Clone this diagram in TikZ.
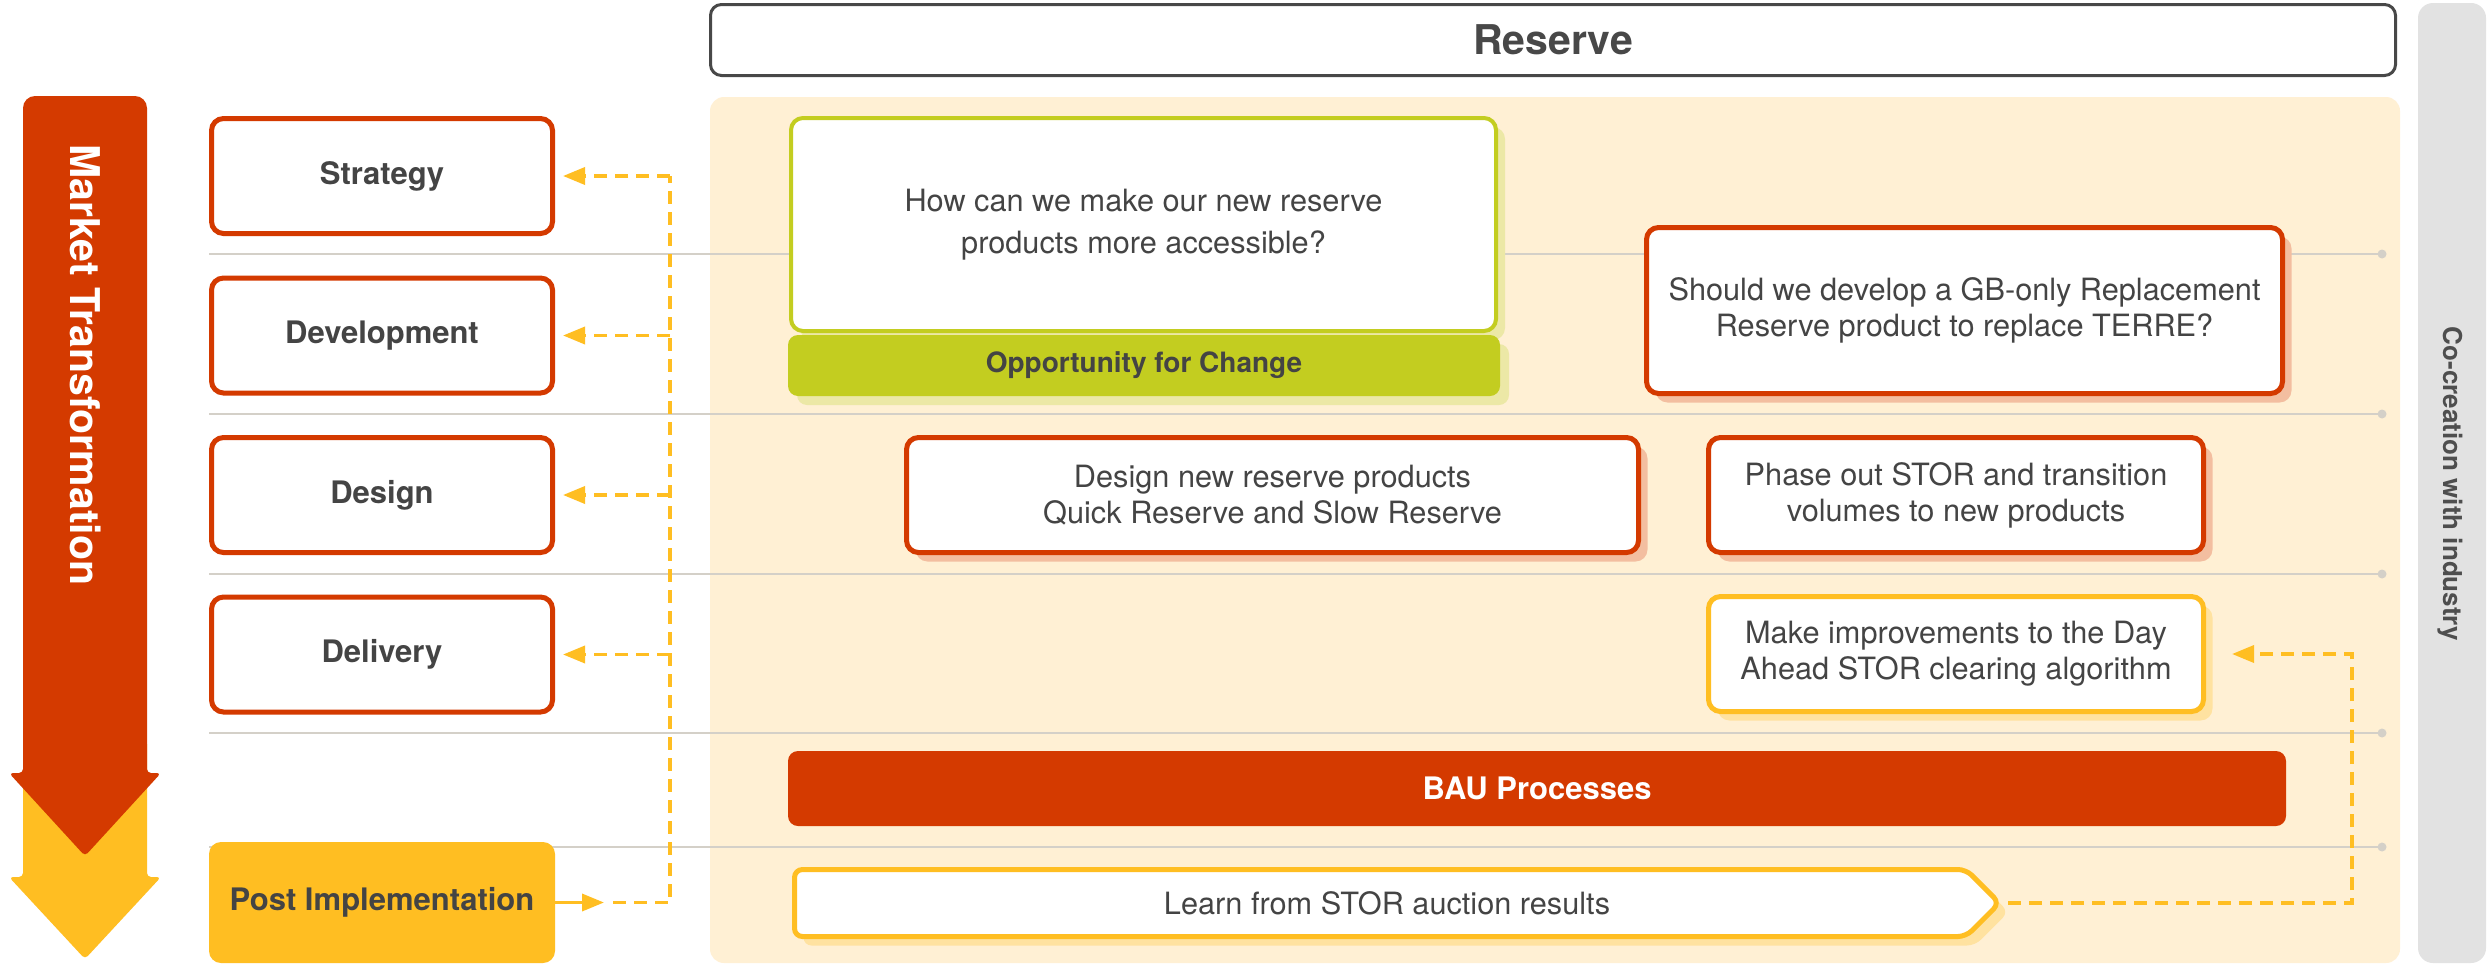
\documentclass[tikz,border=0pt]{standalone}
\usepackage{fontspec}
\setmainfont{TeX Gyre Heros}
\usetikzlibrary{arrows.meta,shadows}
\definecolor{tred}{RGB}{212,58,0}
\definecolor{tyel}{RGB}{255,190,34}
\definecolor{tgreen}{RGB}{195,205,32}
\definecolor{cream}{RGB}{255,240,212}
\definecolor{txt}{RGB}{68,68,68}
\definecolor{sred}{RGB}{243,190,160}
\definecolor{syel}{RGB}{255,226,160}
\definecolor{sgreen}{RGB}{236,232,166}
\definecolor{gline}{RGB}{212,208,200}
\definecolor{gbar}{RGB}{226,226,226}
\definecolor{hdr}{RGB}{72,72,72}
\definecolor{gtext}{RGB}{78,78,78}
\begin{document}
\begin{tikzpicture}[x=1pt,y=-1pt,
  body/.style={font=\fontsize{30.7pt}{36pt}\selectfont, text=txt, align=center},
  bodybold/.style={font=\fontsize{31pt}{36pt}\selectfont\bfseries, text=txt, align=center},
  stagebox/.style={draw=tred, line width=5pt, fill=white, rounded corners=12pt, inner sep=0pt, bodybold, minimum width=341pt, minimum height=115pt},
  sred shadow/.style={drop shadow={shadow xshift=9pt, shadow yshift=-9pt, fill=sred, opacity=1}},
  syel shadow/.style={drop shadow={shadow xshift=9pt, shadow yshift=-9pt, fill=syel, opacity=1}},
  sgreen shadow/.style={drop shadow={shadow xshift=9pt, shadow yshift=-9pt, fill=sgreen, opacity=1}},
  redbox/.style={draw=tred, line width=5pt, fill=white, rounded corners=12pt, inner sep=0pt, body, sred shadow},
  yelbox/.style={draw=tyel, line width=5pt, fill=white, rounded corners=12pt, inner sep=0pt, body, syel shadow},
  gridline/.style={draw=gline, line width=2.5pt},
  griddot/.style={fill=gline},
  dconn/.style={draw=tyel, line width=3.5pt, dash pattern=on 13pt off 8pt},
  sconn/.style={draw=tyel, line width=3.5pt},
  tip/.style={-{Triangle[length=22pt,width=17pt]}}
]
\useasboundingbox (0,0) rectangle (2488,964);
\fill[white] (0,0) rectangle (2488,964);
% side bar and panel
\fill[gbar, rounded corners=15pt] (2418,3) rectangle (2486,963);
\node[rotate=-90, font=\fontsize{26pt}{26pt}\selectfont\bfseries, text=gtext] (cocreation) at (2450,484) {Co-creation with industry};
\fill[cream, rounded corners=14pt] (710,97) rectangle (2400,963);
% header
\node[draw=hdr, line width=3pt, fill=white, rounded corners=11pt, inner sep=0pt,
  minimum width=1685pt, minimum height=71pt, font=\fontsize{41pt}{41pt}\selectfont\bfseries, text=hdr] (reserve) at (1553,40) {Reserve};
% grid lines
\foreach \yy in {254,414,574,733,847}{
  \draw[gridline] (209,\yy) -- (2382,\yy);
  \fill[griddot] (2382,\yy) circle (4.5pt);
}
% market transformation arrow
\fill[tyel, rounded corners=4pt] (23,740) -- (23,877) -- (9,877) -- (85,959) -- (161,877) -- (147,877) -- (147,740) -- cycle;
\fill[tred] (23,773) [rounded corners=12pt] -- (23,96) -- (147,96) -- (147,400) [rounded corners=4pt] -- (147,773) -- (161,773) -- (85,856) -- (9,773) -- (23,773) -- cycle;
\node[rotate=-90, font=\fontsize{41pt}{41pt}\selectfont\bfseries, text=white] (mt) at (86,365) {Market Transformation};
% stage boxes
\node[stagebox] (strategy) at (382,176) {Strategy};
\node[stagebox] (development) at (382,335.5) {Development};
\node[stagebox] (design) at (382,495) {Design};
\node[stagebox] (delivery) at (382,654.5) {Delivery};
\node[fill=tyel, rounded corners=12pt, inner sep=0pt, minimum width=346pt, minimum height=121pt, bodybold] (post) at (382,902.5) {Post Implementation};
% content boxes
\node[draw=tgreen, line width=4pt, fill=white, rounded corners=12pt, inner sep=0pt, body, sgreen shadow,
  minimum width=705pt, minimum height=213pt, font=\fontsize{30.7pt}{42pt}\selectfont] (question) at (1143.5,224.5) {How can we make our new reserve\\products more accessible?};
\node[fill=tgreen, rounded corners=10pt, inner sep=0pt, sgreen shadow, minimum width=712pt, minimum height=61pt,
  font=\fontsize{28pt}{28pt}\selectfont\bfseries, text=txt] (opportunity) at (1144,365.5) {Opportunity for Change};
\node[redbox, minimum width=636pt, minimum height=166pt] (should) at (1964.5,310.5) {Should we develop a GB-only Replacement\\Reserve product to replace TERRE?};
\node[redbox, minimum width=732pt, minimum height=115pt] (designnew) at (1272.5,495) {Design new reserve products\\Quick Reserve and Slow Reserve};
\node[redbox, minimum width=495pt, minimum height=115pt] (phase) at (1956,495) {Phase out STOR and transition\\volumes to new products};
\node[yelbox, minimum width=495pt, minimum height=115pt] (make) at (1956,654) {Make improvements to the Day\\Ahead STOR clearing algorithm};
\node[fill=tred, rounded corners=10pt, inner sep=0pt, minimum width=1498pt, minimum height=75pt,
  font=\fontsize{31pt}{31pt}\selectfont\bfseries, text=white] (bau) at (1537,788.5) {BAU Processes};
% learn (chevron)
\fill[syel, rounded corners=8pt] (803.5,878.5) -- (1975,878.5) -- (2008.5,912) -- (1975,945.5) -- (803.5,945.5) -- cycle;
\draw[draw=tyel, line width=5pt, fill=white, rounded corners=8pt] (794.5,869.5) -- (1966,869.5) -- (1999.5,903) -- (1966,936.5) -- (794.5,936.5) -- cycle;
\node[body] (learn) at (1387,903) {Learn from STOR auction results};
\coordinate (learnTip) at (2002,903);
% connectors left
\coordinate (piTip) at (604,902.5);
\coordinate (piDash) at (613,902.5);
\coordinate (jTop) at (670,176);
\coordinate (j2) at (670,335.5);
\coordinate (j3) at (670,495);
\coordinate (j4) at (670,654.5);
\draw[sconn, tip] (post) -- (piTip);
\draw[dconn] (piDash) -| (jTop);
\draw[dconn, tip, shorten >=8pt] (jTop) -- (strategy);
\draw[dconn, tip, shorten >=8pt] (j2) -- (development);
\draw[dconn, tip, shorten >=8pt] (j3) -- (design);
\draw[dconn, tip, shorten >=8pt] (j4) -- (delivery);
% connector right
\coordinate (rc) at (2352,654);
\draw[dconn, tip, shorten >=26pt, shorten <=6pt] (learnTip) -| (rc) -- (make);
\end{tikzpicture}
\end{document}
